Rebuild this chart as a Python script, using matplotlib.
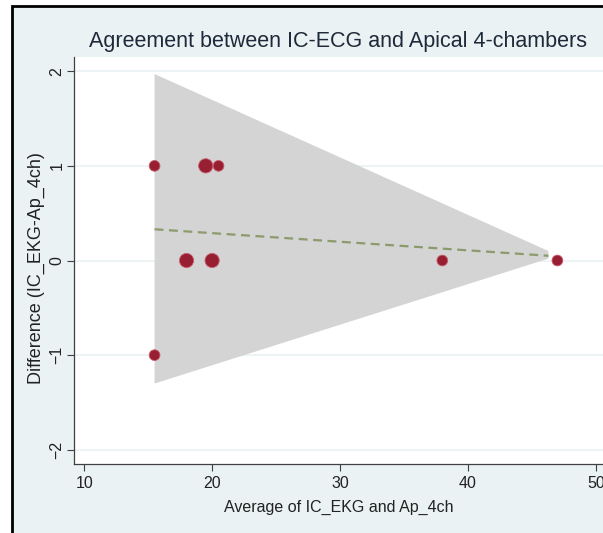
import matplotlib
matplotlib.use("Agg")
import matplotlib.pyplot as plt
from matplotlib.patches import Rectangle, Polygon

plt.rcParams['font.family'] = ['Liberation Sans', 'DejaVu Sans']

# Data
avg = [15.5, 15.5, 19.5, 20.5, 18.0, 20.0, 38.0, 47.0]
diff = [1, -1, 1, 1, 0, 0, 0, 0]
weight = [1, 1, 2, 1, 2, 2, 1, 1]

fit_x = [15.5, 46.3]
fit_y = [0.33, 0.05]

band_x = [15.5, 46.3, 46.3, 15.5]
band_y = [1.97, 0.10, 0.02, -1.30]

xticks = [10, 20, 30, 40, 50]
yticks = [-2, -1, 0, 1, 2]

W, H = 603, 533
fig = plt.figure(figsize=(W / 100, H / 100), dpi=100)
fig.patch.set_facecolor('white')

# background with black frame on left/top
bg = Rectangle((12 / W, -0.05), 1.1, 1 - 6 / H + 0.05, transform=fig.transFigure,
               facecolor='#eaf2f3', edgecolor='black', linewidth=2, zorder=-10)
fig.patches.append(bg)

ax_l, ax_r = 74 / W, 606 / W
ax_b, ax_t = 1 - 464 / H, 1 - 57 / H
ax = fig.add_axes([ax_l, ax_b, ax_r - ax_l, ax_t - ax_b])
ax.set_zorder(5)
ax.set_facecolor('white')
ax.set_xlim(9.2, 50.8)
ax.set_ylim(-2.15, 2.15)

for y in yticks:
    ax.axhline(y, color='#eaf2f3', linewidth=1.2, zorder=1)

ax.add_patch(Polygon(list(zip(band_x, band_y)), closed=True,
                     facecolor='#d4d4d4', edgecolor='none', zorder=2))
ax.plot(fit_x, fit_y, linestyle=(0, (4, 2.5)), color='#8c9a6c', linewidth=1.6, zorder=3)
ax.scatter(avg, diff, s=[60 * (1 + 0.75 * (w - 1)) for w in weight],
           color='#981e32', edgecolors='#c86070', linewidths=0.6, zorder=4)

for s in ['top', 'right']:
    ax.spines[s].set_visible(False)
for s in ['left', 'bottom']:
    ax.spines[s].set_color('#404040')
    ax.spines[s].set_linewidth(0.9)

ax.set_xticks(xticks)
ax.set_yticks(yticks)
ax.tick_params(axis='both', direction='out', length=5, width=0.8, color='#404040',
               labelsize=11.5, labelcolor='#222222')
ax.tick_params(axis='y', labelrotation=90, pad=2)
for lab in ax.get_yticklabels():
    lab.set_va('center')

fig.text(339 / W, 1 - 507 / H, 'Average of IC_EKG and Ap_4ch', ha='center', va='center',
         fontsize=11.5, color='#222222')
fig.text(36 / W, 1 - 268 / H, 'Difference (IC_EKG-Ap_4ch)', ha='center', va='center',
         rotation=90, fontsize=13, color='#222222')
fig.text(338 / W, 1 - 42 / H, 'Agreement between IC-ECG and Apical 4-chambers',
         ha='center', va='center', fontsize=15.5, color='#1e2a3a')

fig.savefig('out.png', dpi=100, facecolor=fig.get_facecolor())
